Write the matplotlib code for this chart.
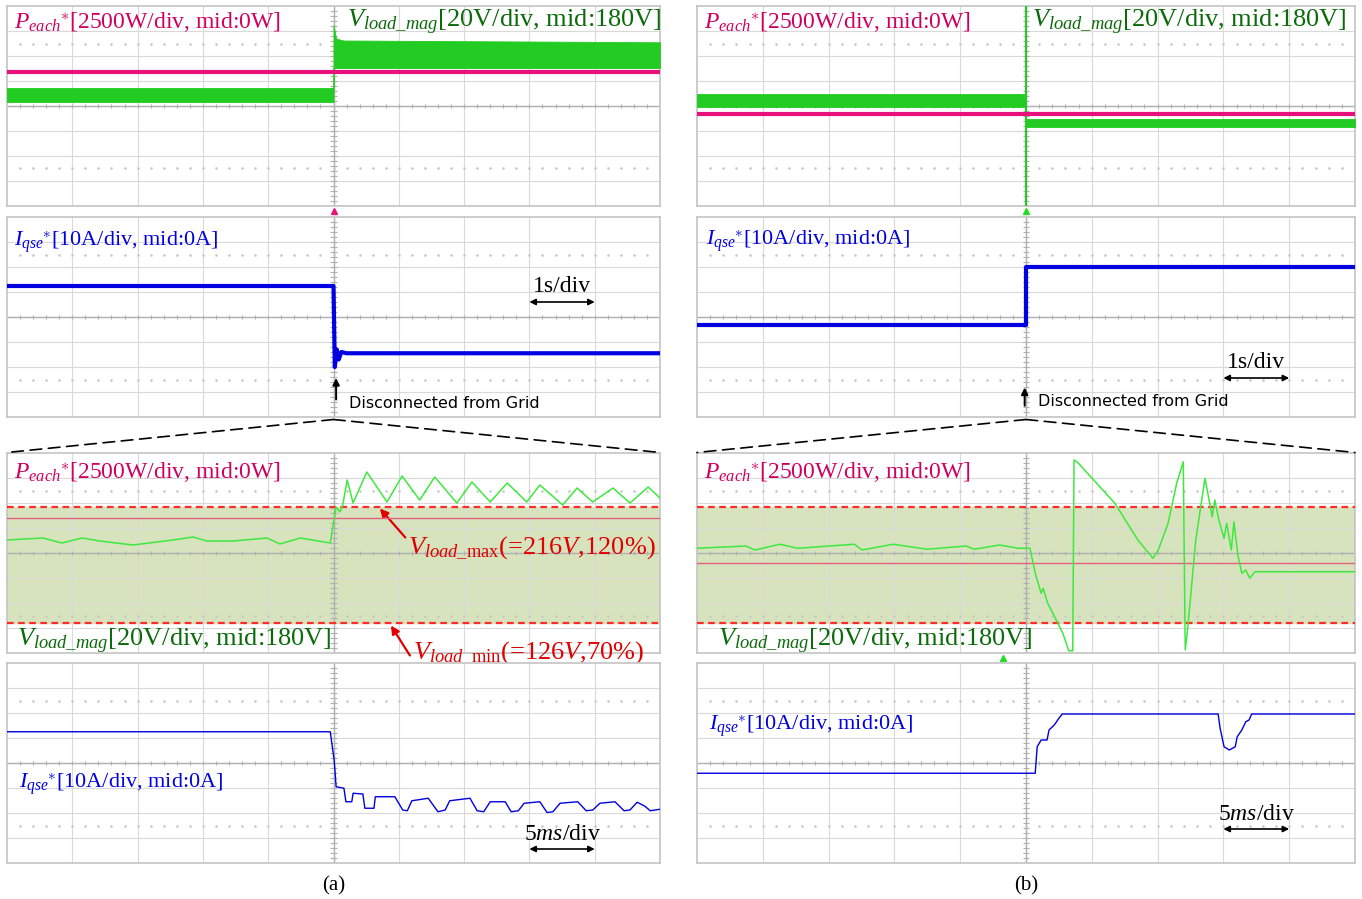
# -*- coding: utf-8 -*-
# Scope captures: grid disconnection, (a) and (b)
import matplotlib.pyplot as plt
from matplotlib.patches import ConnectionPatch
import numpy as np

plt.rcParams['mathtext.fontset'] = 'custom'
plt.rcParams['mathtext.rm'] = 'Liberation Serif'
plt.rcParams['mathtext.it'] = 'Liberation Serif:italic'
plt.rcParams['mathtext.bf'] = 'Liberation Serif:bold'
plt.rcParams['font.family'] = 'Liberation Serif'

# all values in scope divisions: x 0..10, y -4..4 (centre = mid value)
# ---- (a) 1 s/div ----
a1_p_x = [0, 10]
a1_p_y = [1.36, 1.36]
a1_v_x = [0, 5.0, 5.0, 5.04, 5.15, 10]
a1_v_hi = [0.72, 0.72, 3.24, 2.7, 2.62, 2.55]
a1_v_lo = [0.16, 0.16, 1.5, 1.52, 1.52, 1.52]

a2_i_x = [0, 5.0, 5.02, 5.05, 5.08, 5.12, 5.2, 10]
a2_i_y = [1.24, 1.24, -2.0, -1.3, -1.7, -1.4, -1.45, -1.45]

# ---- (a) 5 ms/div ----
a3_p_x = [0, 10]
a3_p_y = [1.4, 1.4]
a3_v_x = [0, 0.55, 0.84, 1.15, 1.42, 1.93, 2.54, 2.85, 3.06, 3.46, 3.98, 4.18,
          4.49, 4.95, 5.04, 5.10, 5.14, 5.21, 5.30, 5.51, 5.82, 6.05, 6.32,
          6.55, 6.89, 7.12, 7.40, 7.66, 7.96, 8.16, 8.51, 8.73, 8.97, 9.28,
          9.54, 9.82, 10.0]
a3_v_y = [0.52, 0.6, 0.4, 0.6, 0.48, 0.32, 0.52, 0.64, 0.48, 0.48, 0.6, 0.36,
          0.6, 0.4, 1.84, 1.64, 1.9, 2.92, 2.0, 3.24, 2.04, 3.08, 2.12,
          3.04, 2.0, 2.84, 2.04, 2.8, 2.04, 2.72, 1.92, 2.6, 2.04, 2.6,
          2.0, 2.64, 2.2]
v_max_div = 1.84
v_min_div = -2.8

a4_i_x = [0, 4.95, 5.01, 5.04, 5.16, 5.19, 5.28, 5.30, 5.45, 5.48, 5.62, 5.64,
          5.94, 6.06, 6.13, 6.20, 6.45, 6.60, 6.71, 6.78, 7.09, 7.20, 7.30,
          7.40, 7.63, 7.72, 7.83, 7.92, 8.16, 8.27, 8.36, 8.47, 8.74, 8.87,
          8.97, 9.08, 9.31, 9.45, 9.54, 9.65, 9.77, 9.85, 10.0]
a4_i_y = [1.25, 1.25, 0.13, -0.95, -1.01, -1.55, -1.55, -1.21, -1.24, -1.81,
          -1.81, -1.35, -1.35, -1.88, -1.91, -1.51, -1.41, -1.95, -1.88, -1.51,
          -1.41, -1.91, -1.95, -1.55, -1.55, -1.95, -1.91, -1.61, -1.55, -1.98,
          -1.95, -1.61, -1.55, -1.91, -1.88, -1.61, -1.55, -1.91, -1.88, -1.57,
          -1.73, -1.91, -1.85]

# ---- (b) 1 s/div ----
b1_p_x = [0, 10]
b1_p_y = [-0.32, -0.32]
b1_v_x = [0, 5.0, 5.0, 10]
b1_v_hi = [0.48, 0.48, -0.52, -0.52]
b1_v_lo = [-0.04, -0.04, -0.84, -0.84]
b1_spike_y = [-4, 4]

b2_i_x = [0, 5.0, 5.0, 10]
b2_i_y = [-0.32, -0.32, 2.0, 2.0]

# ---- (b) 5 ms/div ----
b3_p_x = [0, 10]
b3_p_y = [-0.39, -0.39]
b3_v_x = [0, 0.74, 0.88, 1.26, 1.53, 2.39, 2.51, 2.98, 3.50, 4.09, 4.21, 4.60,
          4.88, 5.06, 5.14, 5.23, 5.26, 5.33, 5.46, 5.56, 5.65, 5.71, 5.73,
          5.79, 6.35, 6.70, 6.93, 7.01, 7.16, 7.29, 7.39, 7.42, 7.46, 7.58,
          7.72, 7.83, 7.87, 7.93, 8.01, 8.05, 8.12, 8.16, 8.22, 8.28, 8.34,
          8.40, 8.48, 10]
b3_v_y = [0.19, 0.28, 0.12, 0.35, 0.19, 0.35, 0.12, 0.35, 0.15, 0.28, 0.15, 0.32,
          0.19, 0.19, -0.81, -1.61, -1.41, -2.01, -2.68, -3.21, -3.91, -3.91, 3.72,
          3.61, 1.99, 0.52, -0.21, 0.12, 1.19, 2.79, 3.65, -3.88, -2.95, 0.52,
          2.99, 1.45, 2.12, 1.32, 0.59, 1.19, 0.12, 1.25, -0.08, -0.81, -0.68,
          -1.01, -0.75, -0.75]

b4_i_x = [0, 5.14, 5.17, 5.23, 5.32, 5.35, 5.43, 5.50, 5.55, 7.92, 7.95, 8.01,
          8.09, 8.18, 8.21, 8.28, 8.34, 8.39, 8.43, 10]
b4_i_y = [-0.41, -0.41, 0.65, 0.92, 0.92, 1.32, 1.52, 1.79, 1.96, 1.96, 1.39, 0.65,
          0.52, 0.65, 1.05, 1.32, 1.65, 1.72, 1.96, 1.96]

# colours
PINK = '#e8107a'
PLAB = '#cf0060'
GREEN = '#22cc22'
GLAB = '#0b6b0b'
BLUE = '#0000e0'
ZGREEN = '#3fe83f'
ZPINK = '#e0607e'
RED = '#e00000'
SHADE = '#d7e3bd'

P_TXT = r'$P_{each}{}^{\ast}$[2500W/div, mid:0W]'
V_TXT = r'$V_{load\_mag}$[20V/div, mid:180V]'
I_TXT = r'$I_{qse}{}^{\ast}$[10A/div, mid:0A]'

W, H = 1362, 899
fig = plt.figure(figsize=(W / 100, H / 100), dpi=100)


def screen(l, t, w, h):
    ax = fig.add_axes([l / W, 1 - (t + h) / H, w / W, h / H])
    ax.set_xlim(0, 10)
    ax.set_ylim(-4, 4)
    ax.set_xticks([])
    ax.set_yticks([])
    for s in ax.spines.values():
        s.set_color('#c4c4c4')
        s.set_linewidth(1.2)
    for i in range(1, 10):
        ax.axvline(i, color='#d9d9d9', lw=0.8, zorder=1)
    for j in range(-3, 4):
        ax.axhline(j, color='#d9d9d9', lw=0.8, zorder=1)
    ax.axvline(5, color='#b0b0b0', lw=1.0, zorder=1)
    ax.axhline(0, color='#b0b0b0', lw=1.0, zorder=1)
    tx = np.arange(0.2, 10, 0.2)
    ty = np.arange(-3.8, 4, 0.2)
    ax.vlines(tx, -0.07, 0.07, color='#b0b0b0', lw=0.8, zorder=1)
    ax.hlines(ty, 4.95, 5.05, color='#b0b0b0', lw=0.8, zorder=1)
    for yd in (2.5, -2.5):
        ax.plot(tx, [yd] * len(tx), ls='none', marker='s', ms=0.8,
                color='#c8c8c8', zorder=1)
    return ax


cols = [(7, 653), (697, 658)]
tops = [6, 217, 453, 663]
axs = [[screen(l, t, w, 200) for t in tops] for (l, w) in cols]

p_kw = dict(fontsize=17, va='center', ha='left', zorder=5, color=PLAB)
v_kw = dict(fontsize=19, va='center', ha='left', zorder=5, color=GLAB)
i_kw = dict(fontsize=16, va='center', ha='left', zorder=5, color=BLUE)
dbl = dict(arrowstyle='<|-|>', color='k', lw=1.2, mutation_scale=9,
           shrinkA=0, shrinkB=0)
up = dict(arrowstyle='-|>', color='k', lw=1.4, mutation_scale=10,
          shrinkA=0, shrinkB=0)
red_arr = dict(arrowstyle='-|>', color=RED, lw=1.6, mutation_scale=12,
               shrinkA=0, shrinkB=0)

# ===== column (a) =====
ax1, ax2, ax3, ax4 = axs[0]
ax1.fill_between(a1_v_x, a1_v_lo, a1_v_hi, color=GREEN, lw=0.6, zorder=3)
ax1.plot(a1_p_x, a1_p_y, color=PINK, lw=3, zorder=4)
ax1.text(0.1, 3.36, P_TXT, **p_kw)
ax1.text(5.2, 3.36, V_TXT, **v_kw)
ax1.plot([5], [-4.22], marker='^', ms=5, color=PINK, clip_on=False)

ax2.plot(a2_i_x, a2_i_y, color=BLUE, lw=3, zorder=4)
ax2.text(0.1, 2.96, I_TXT, **i_kw)
ax2.text(8.5, 1.2, '1s/div', fontsize=17, ha='center', va='center')
ax2.annotate('', xy=(8, 0.6), xytext=(9, 0.6), arrowprops=dbl)
ax2.annotate('', xy=(5.04, -2.44), xytext=(5.04, -3.3), arrowprops=up)
ax2.text(5.24, -3.44, 'Disconnected from Grid', family='DejaVu Sans',
         fontsize=11.5, ha='left', va='center')

ax3.axhspan(v_min_div, v_max_div, color=SHADE, zorder=0.5)
for yd in (v_max_div, v_min_div):
    ax3.axhline(yd, color='#ff2a2a', lw=1.6, ls=(0, (3, 2)), zorder=3)
ax3.plot(a3_p_x, a3_p_y, color=ZPINK, lw=1, zorder=4)
ax3.plot(a3_v_x, a3_v_y, color=ZGREEN, lw=1.1, zorder=4)
ax3.text(0.1, 3.24, P_TXT, **p_kw)
ax3.text(0.15, -3.52, V_TXT, **v_kw)
ax3.annotate('', xy=(5.71, 1.78), xytext=(6.1, 0.62), arrowprops=red_arr)
ax3.text(6.14, 0.2, r'$V_{load\_\mathrm{max}}$(=216$V$,120%)', color=RED,
         fontsize=19, ha='left', va='center', zorder=6)
ax3.annotate('', xy=(5.88, -2.9), xytext=(6.17, -4.1), arrowprops=red_arr,
             annotation_clip=False)
ax3.text(6.22, -4.0, r'$V_{load\_\mathrm{min}}$(=126$V$,70%)', color=RED,
         fontsize=19, ha='left', va='center', zorder=6, clip_on=False)

ax4.plot(a4_i_x, a4_i_y, color=BLUE, lw=1, zorder=4)
ax4.text(0.18, -0.88, I_TXT, **i_kw)
ax4.text(8.5, -2.84, r'5$ms$/div', fontsize=17, ha='center', va='center')
ax4.annotate('', xy=(8, -3.44), xytext=(9, -3.44), arrowprops=dbl)
ax4.text(5, -4.9, '(a)', fontsize=15, ha='center', va='center', clip_on=False)

# ===== column (b) =====
bx1, bx2, bx3, bx4 = axs[1]
bx1.fill_between(b1_v_x, b1_v_lo, b1_v_hi, color=GREEN, lw=0.6, zorder=3)
bx1.plot([5, 5], b1_spike_y, color=GREEN, lw=1.5, zorder=3)
bx1.plot(b1_p_x, b1_p_y, color=PINK, lw=3, zorder=4)
bx1.text(0.1, 3.36, P_TXT, **p_kw)
bx1.text(5.09, 3.36, V_TXT, **v_kw)
bx1.plot([5], [-4.22], marker='^', ms=5, color='#22dd22', clip_on=False)

bx2.plot(b2_i_x, b2_i_y, color=BLUE, lw=3, zorder=4)
bx2.text(0.14, 3.0, I_TXT, **i_kw)
bx2.text(8.5, -1.84, '1s/div', fontsize=17, ha='center', va='center')
bx2.annotate('', xy=(8, -2.44), xytext=(9, -2.44), arrowprops=dbl)
bx2.annotate('', xy=(4.98, -2.82), xytext=(4.98, -3.55), arrowprops=up)
bx2.text(5.18, -3.4, 'Disconnected from Grid', family='DejaVu Sans',
         fontsize=11.5, ha='left', va='center')

bx3.axhspan(v_min_div, v_max_div, color=SHADE, zorder=0.5)
for yd in (v_max_div, v_min_div):
    bx3.axhline(yd, color='#ff2a2a', lw=1.6, ls=(0, (3, 2)), zorder=3)
bx3.plot(b3_p_x, b3_p_y, color=ZPINK, lw=1, zorder=4)
bx3.plot(b3_v_x, b3_v_y, color=ZGREEN, lw=1.1, zorder=4)
bx3.text(0.1, 3.24, P_TXT, **p_kw)
bx3.text(0.32, -3.52, V_TXT, **v_kw)
bx3.plot([4.65], [-4.2], marker='^', ms=4, color='#22dd22', clip_on=False)

bx4.plot(b4_i_x, b4_i_y, color=BLUE, lw=1, zorder=4)
bx4.text(0.18, 1.44, I_TXT, **i_kw)
bx4.text(8.5, -2.04, r'5$ms$/div', fontsize=17, ha='center', va='center')
bx4.annotate('', xy=(8, -2.64), xytext=(9, -2.64), arrowprops=dbl)
bx4.text(5, -4.9, '(b)', fontsize=15, ha='center', va='center', clip_on=False)

# zoom-in guide lines
for top, zoom in ((ax2, ax3), (bx2, bx3)):
    for xe in (0, 10):
        con = ConnectionPatch(xyA=(5, -4.1), coordsA=top.transData,
                              xyB=(xe, 4.02), coordsB=zoom.transData,
                              color='k', lw=1.2, ls=(0, (7, 4)))
        fig.add_artist(con)

fig.savefig('out.png', dpi=100)
